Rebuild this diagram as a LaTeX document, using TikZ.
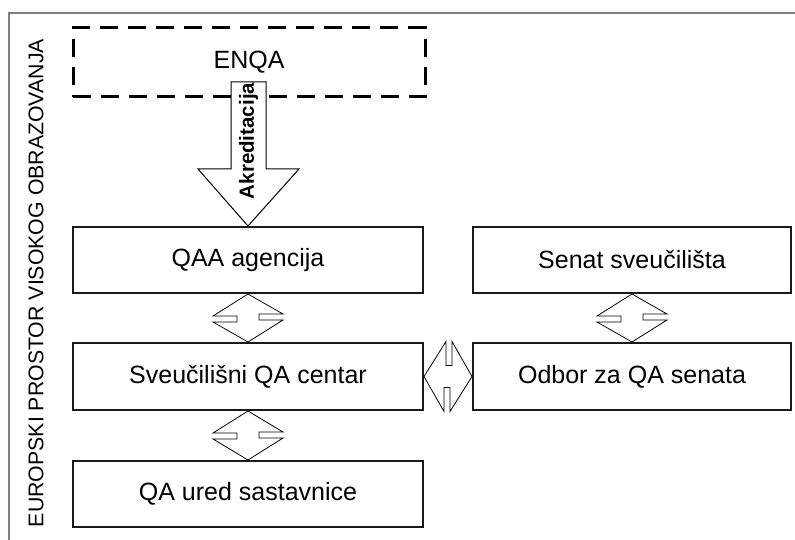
\documentclass[tikz,border=0pt]{standalone}
\usepackage{fontspec}
\setmainfont{Liberation Sans}
\usetikzlibrary{calc}
\tikzset{
  box/.style={draw=black!90, line width=2pt, minimum height=66pt, inner sep=0pt,
    font=\fontsize{25}{30}\selectfont},
  leftbox/.style={box, minimum width=350pt},
  rightbox/.style={box, minimum width=318pt},
  dashbox/.style={draw=black, line width=3pt, dash pattern=on 18pt off 10pt,
    minimum width=352pt, minimum height=69pt, inner sep=0pt,
    font=\fontsize{25}{30}\selectfont},
  dblarrow/.style={draw=black, line width=0.8pt, fill=white, line join=miter},
  blockarrow/.style={draw=black, line width=1pt, fill=white, line join=miter},
  frameline/.style={draw=gray, line width=1.5pt}
}
\newcommand{\vdbl}[2]{%
  \draw[dblarrow] (#1.south) -- ++(-35,22) -- ++(24,0) -- ++(0,6) -- ++(-24,0)
    -- (#2.north) -- ++(35,-22) -- ++(-24,0) -- ++(0,-6) -- ++(24,0) -- cycle;}
\newcommand{\hdbl}[2]{%
  \draw[dblarrow] (#1.east) -- ++(22,-35) -- ++(0,24) -- ++(6,0) -- ++(0,-24)
    -- (#2.west) -- ++(-22,35) -- ++(0,-24) -- ++(-6,0) -- ++(0,24) -- cycle;}
\begin{document}
\begin{tikzpicture}[x=1pt,y=-1pt]
\useasboundingbox (0,0) rectangle (795,540);
\fill[white] (0,0) rectangle (795,540);
% outer frame
\coordinate (fbl) at (9,540);
\coordinate (ftl) at (9,13);
\coordinate (ftr) at (795,13);
\draw[frameline] (fbl) -- (ftl) -- (ftr);
% side label
\node[rotate=90, font=\fontsize{21.3}{25}\selectfont] (side) at (36,283)
  {EUROPSKI PROSTOR VISOKOG OBRAZOVANJA};
% boxes
\node[dashbox] (enqa) at (249,62.5) {ENQA};
\node[leftbox] (qaa) at (248,260) {QAA agencija};
\node[leftbox, minimum height=67pt] (centar) at (248,376.5) {Sveučilišni QA centar};
\node[leftbox] (ured) at (248,494) {QA ured sastavnice};
\node[rightbox] (senat) at (632,260) {Senat sveučilišta};
\node[rightbox, minimum height=67pt] (odbor) at (632,376.5) {Odbor za QA senata};
% accreditation arrow
\draw[blockarrow] (qaa.north) -- ++(-50,-57) -- ++(33,0) -- ++(0,-87)
  -- ++(35,0) -- ++(0,87) -- ++(33,0) -- cycle;
\node[rotate=90, font=\fontsize{20.5}{24}\selectfont\bfseries, inner sep=0pt]
  (akr) at ($(qaa.north)+(0.5,-85)$) {Akreditacija};
% double arrows
\vdbl{qaa}{centar}
\vdbl{centar}{ured}
\vdbl{senat}{odbor}
\hdbl{centar}{odbor}
\end{tikzpicture}
\end{document}
